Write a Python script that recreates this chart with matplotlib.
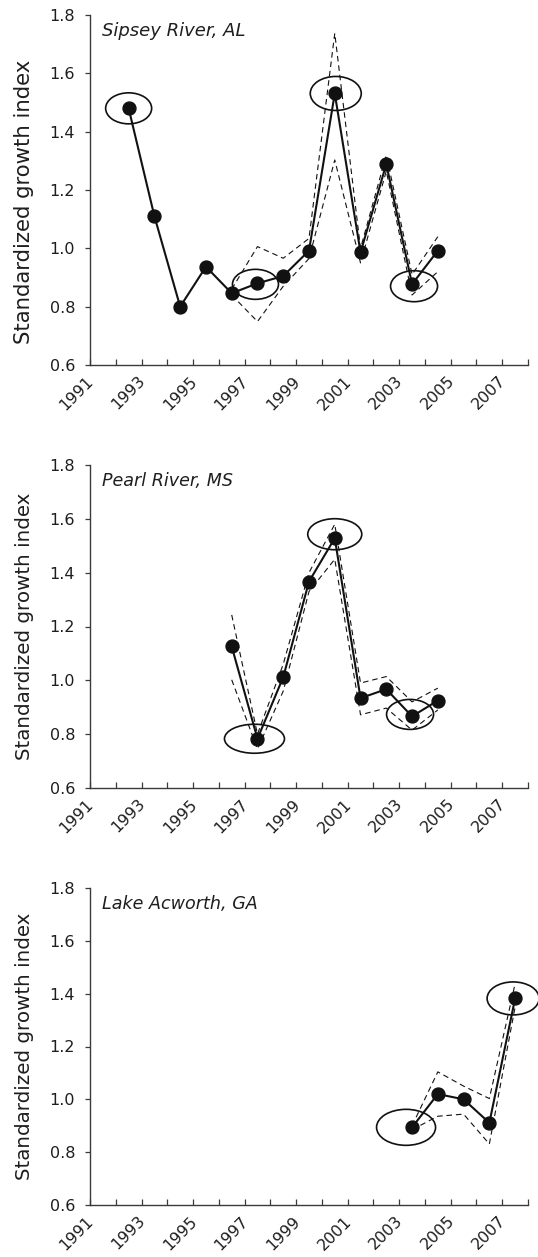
import matplotlib
matplotlib.use("Agg")
import matplotlib.pyplot as plt
from matplotlib.patches import Ellipse
from matplotlib.transforms import ScaledTranslation

plt.rcParams['font.family'] = ['DejaVu Sans']

# ---------------- data ----------------
x_ticks = list(range(1991, 2009))
x_tick_labels = [str(y) if y % 2 == 1 and y < 2008 else "" for y in x_ticks]
y_ticks = [0.6, 0.8, 1.0, 1.2, 1.4, 1.6, 1.8]

sipsey_years = [1992, 1993, 1994, 1995, 1996, 1997, 1998, 1999, 2000, 2001, 2002, 2003, 2004]
sipsey_index = [1.48, 1.11, 0.80, 0.937, 0.846, 0.88, 0.905, 0.992, 1.531, 0.986, 1.289, 0.877, 0.992]
sipsey_ci_years = [1996, 1997, 1998, 1999, 2000, 2001, 2002, 2003, 2004]
sipsey_upper = [0.86, 1.006, 0.966, 1.034, 1.737, 1.00, 1.32, 0.91, 1.04]
sipsey_lower = [0.84, 0.749, 0.87, 0.965, 1.303, 0.95, 1.265, 0.84, 0.92]
sipsey_marked = [1992, 1997, 2000, 2003]

pearl_years = [1996, 1997, 1998, 1999, 2000, 2001, 2002, 2003, 2004]
pearl_index = [1.126, 0.783, 1.012, 1.367, 1.528, 0.934, 0.967, 0.866, 0.925]
pearl_ci_years = [1996, 1997, 1998, 1999, 2000, 2001, 2002, 2003, 2004]
pearl_upper = [1.243, 0.80, 1.06, 1.40, 1.58, 0.99, 1.014, 0.92, 0.971]
pearl_lower = [1.002, 0.745, 0.96, 1.33, 1.45, 0.872, 0.897, 0.815, 0.89]
pearl_marked = [1997, 2000, 2003]

acworth_years = [2003, 2004, 2005, 2006, 2007]
acworth_index = [0.894, 1.02, 1.0, 0.911, 1.382]
acworth_ci_years = [2003, 2004, 2005, 2006, 2007]
acworth_upper = [0.90, 1.104, 1.05, 1.003, 1.438]
acworth_lower = [0.885, 0.936, 0.944, 0.831, 1.35]
acworth_marked = [2003, 2007]

site_names = ["Sipsey River, AL", "Pearl River, MS", "Lake Acworth, GA"]

# ---------------- styling ----------------
W, H = 538, 1257
fig = plt.figure(figsize=(W / 100, H / 100), dpi=100)

# axes boxes in pixels: (left, top, right, bottom)
boxes = [(90, 15, 528, 365), (90, 465, 528, 788), (90, 888, 528, 1205)]
ylabel_sizes = [15.3, 14.3, 14.3]
title_sizes = [13, 12.6, 12.6]
# ellipse sizes (px): width, height, dx, dy
ell_styles = [
    [(46, 31, 0, 0), (46, 30, -2, 1), (51, 34, 1, 0), (47, 31, 2, 2)],
    [(60, 29, -3, 0), (54, 31, 0, -4), (47, 30, -2, -2)],
    [(59, 36, -6, 0), (52, 33, -2, 0)],
]

panels = [
    (sipsey_years, sipsey_index, sipsey_ci_years, sipsey_upper, sipsey_lower, sipsey_marked),
    (pearl_years, pearl_index, pearl_ci_years, pearl_upper, pearl_lower, pearl_marked),
    (acworth_years, acworth_index, acworth_ci_years, acworth_upper, acworth_lower, acworth_marked),
]

axis_col = '#3a3a3a'
text_col = '#1e1e1e'

for i, (yrs, idx, cyrs, up, lo, marked) in enumerate(panels):
    l, t, r, b = boxes[i]
    ax = fig.add_axes([l / W, 1 - b / H, (r - l) / W, (b - t) / H])
    ax.set_xlim(1991, 2008)
    ax.set_ylim(0.6, 1.8)

    xs = [y + 0.5 for y in yrs]
    cxs = [y + 0.5 for y in cyrs]
    for series in (up, lo):
        ln, = ax.plot(cxs, series, color='#111111', lw=0.8, zorder=2)
        ln.set_dashes([5, 3.5])
    ax.plot(xs, idx, color='#111111', lw=1.5, marker='o', markersize=9.3,
            markerfacecolor='#111111', markeredgecolor='#111111', zorder=3)

    for j, yr in enumerate(marked):
        k = yrs.index(yr)
        w, h, dx, dy = ell_styles[i][j]
        tr = fig.dpi_scale_trans + ScaledTranslation(yr + 0.5, idx[k], ax.transData)
        e = Ellipse((dx / 100, -dy / 100), w / 100, h / 100, transform=tr,
                    fill=False, edgecolor='#111111', lw=1.2, clip_on=False, zorder=4)
        ax.add_patch(e)

    for s in ('top', 'right'):
        ax.spines[s].set_visible(False)
    for s in ('left', 'bottom'):
        ax.spines[s].set_color(axis_col)
        ax.spines[s].set_linewidth(1.0)

    ax.set_yticks(y_ticks)
    ax.set_yticklabels([f"{v:.1f}" for v in y_ticks])
    ax.tick_params(axis='y', direction='out', length=3.5, width=0.9, color=axis_col,
                   pad=7.2, labelsize=11.5, labelcolor=text_col)
    ax.set_xticks(x_ticks)
    ax.set_xticklabels(x_tick_labels, rotation=45, ha='right', va='top',
                       rotation_mode='anchor')
    ax.tick_params(axis='x', direction='in', length=4, width=0.9, color=axis_col,
                   pad=6, labelsize=11.5, labelcolor=text_col)
    shift = ScaledTranslation(-4 / 100, 0, fig.dpi_scale_trans)
    for lab in ax.get_xticklabels():
        lab.set_transform(lab.get_transform() + shift)

    ax.set_ylabel("Standardized growth index", fontsize=ylabel_sizes[i], color=text_col)
    ax.yaxis.set_label_coords(-0.128, 0.5 - (0.035 if i == 0 else 0.0))

    ax.annotate(site_names[i], xy=(0, 1), xycoords='axes fraction',
                xytext=(9, -5), textcoords='offset points', ha='left', va='top',
                fontsize=title_sizes[i], style='italic', color=text_col)

fig.savefig("out.png", dpi=100)
